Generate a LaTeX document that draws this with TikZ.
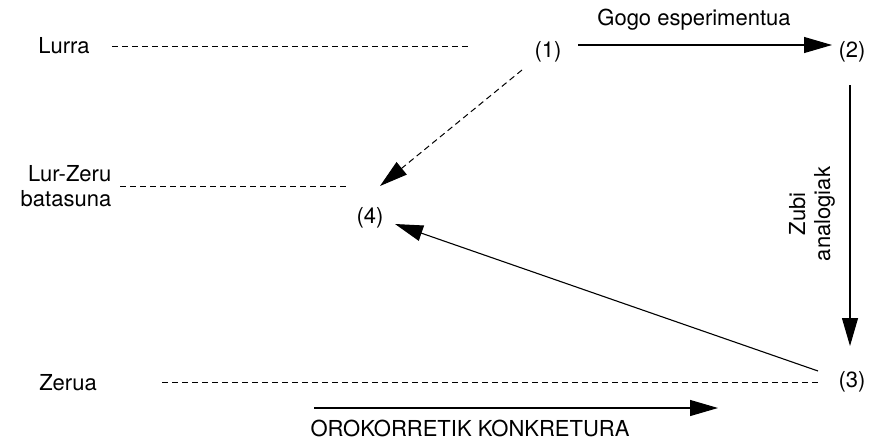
\documentclass[tikz,border=0pt]{standalone}
\usepackage{fontspec}
\setmainfont{TeX Gyre Heros}
\usetikzlibrary{arrows.meta}
\begin{document}
\begin{tikzpicture}[x=1pt,y=-1pt,
  lbl/.style={font=\fontsize{22}{25}\selectfont, inner sep=0pt},
  dashln/.style={dash pattern=on 6pt off 4pt, line width=1pt},
  arr/.style={line width=1.1pt, -{Triangle[length=28pt,width=16pt]}},
  darr/.style={line width=1pt, dash pattern=on 6pt off 4pt, -{Triangle[length=28pt,width=16pt]}}]
\useasboundingbox (0,0) rectangle (870,442);
% labels
\node[lbl] (lurra) at (64,46) {Lurra};
\node[lbl, align=right] (lurzeru) at (66,186) {Lur-Zeru\\batasuna};
\node[lbl] (zerua) at (68,383) {Zerua};
\node[lbl] (n1) at (548,52) {(1)};
\node[lbl] (n2) at (852,52) {(2)};
\node[lbl] (n3) at (852,382) {(3)};
\node[lbl] (n4) at (370,218) {(4)};
\node[lbl] (gogo) at (694,20) {Gogo esperimentua};
\node[lbl, rotate=90, align=center] (zubi) at (812,214) {Zubi\\analogiak};
\node[lbl] (oro) at (470,428) {OROKORRETIK KONKRETURA};
% coordinates
\coordinate (l1a) at (112,46);
\coordinate (l1b) at (468,46);
\coordinate (l2a) at (120,186);
\coordinate (l2b) at (348,186);
\coordinate (l3a) at (162,382);
\coordinate (l3b) at (818,382);
\coordinate (a1s) at (578,45);
\coordinate (a1e) at (832,45);
\coordinate (a2s) at (850,85);
\coordinate (a2e) at (850,346);
\coordinate (a3s) at (818,371);
\coordinate (a3e) at (395,224);
\coordinate (a4s) at (522,70);
\coordinate (a4e) at (380,186);
\coordinate (a5s) at (314,408);
\coordinate (a5e) at (718,408);
% lines
\draw[dashln] (l1a) -- (l1b);
\draw[dashln] (l2a) -- (l2b);
\draw[dashln] (l3a) -- (l3b);
\draw[arr] (a1s) -- (a1e);
\draw[arr] (a2s) -- (a2e);
\draw[arr] (a3s) -- (a3e);
\draw[darr] (a4s) -- (a4e);
\draw[arr] (a5s) -- (a5e);
\end{tikzpicture}
\end{document}
